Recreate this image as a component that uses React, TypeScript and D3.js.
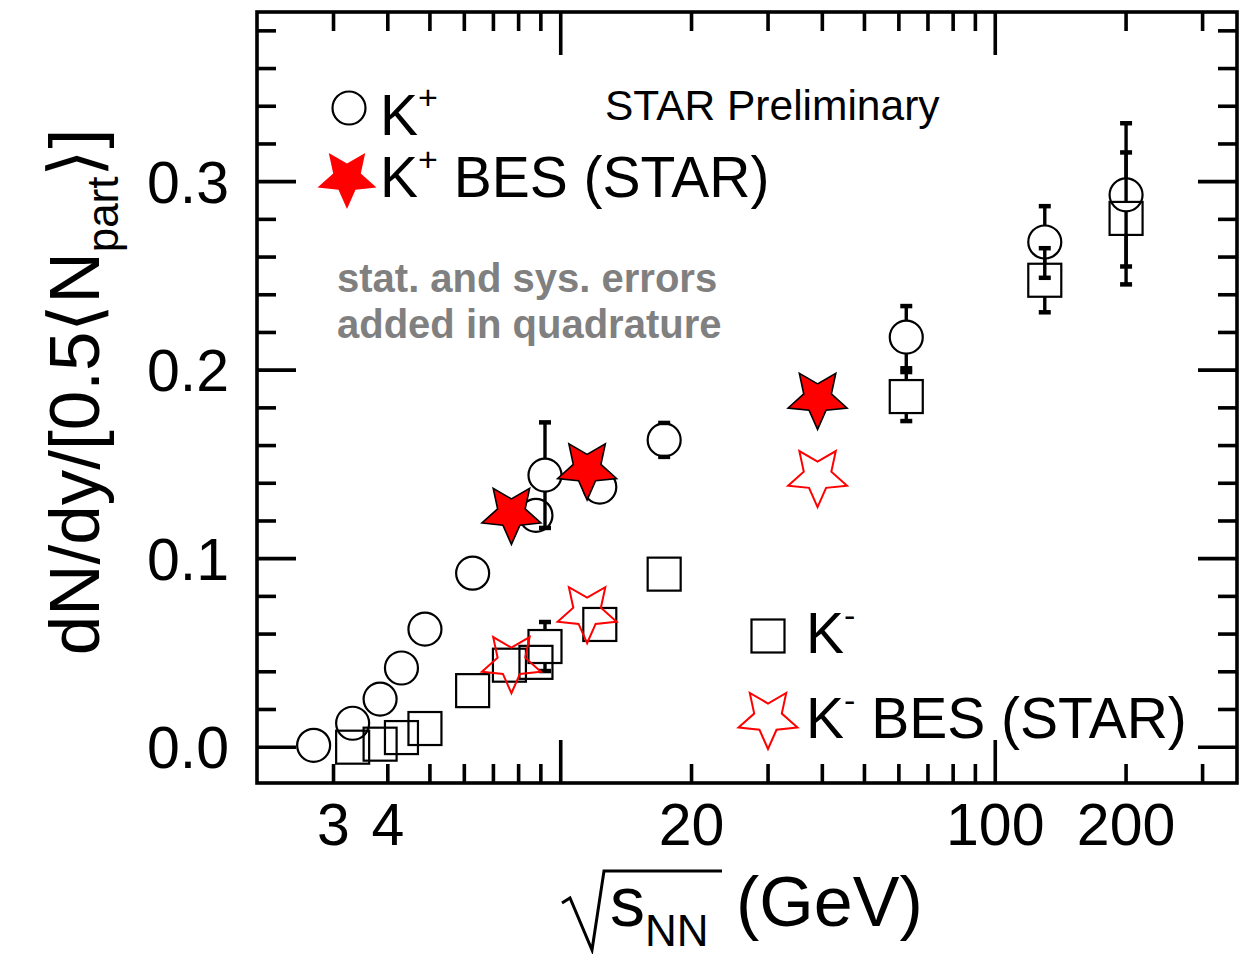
import React from "react";
import * as d3 from "d3";

// Collision energy √s_NN (GeV) and yields dN/dy / (0.5 <Npart>)
const kPlusEnergy = [2.7, 3.32, 3.84, 4.3, 4.87, 6.27, 8.77, 9.2, 12.3, 17.3, 62.4, 130, 200];
const kPlusYield = [0.001, 0.0127, 0.0255, 0.042, 0.0626, 0.0923, 0.123, 0.1443, 0.138, 0.163, 0.2175, 0.268, 0.293];
const kPlusError = [0, 0, 0, 0, 0, 0, 0, 0.028, 0, 0.009, 0.0165, 0.019, 0.038];

const kMinusEnergy = [3.32, 3.84, 4.3, 4.87, 6.27, 7.62, 8.77, 9.2, 12.3, 17.3, 62.4, 130, 200];
const kMinusYield = [0.0, 0.0016, 0.0051, 0.0099, 0.03, 0.0435, 0.045, 0.0534, 0.0651, 0.0918, 0.186, 0.2477, 0.2805];
const kMinusError = [0, 0, 0, 0, 0, 0, 0, 0.013, 0, 0, 0.013, 0.017, 0.035];

// STAR Beam Energy Scan points
const besEnergy = [7.7, 11.5, 39];
const besKPlusYield = [0.124, 0.1476, 0.185];
const besKMinusYield = [0.0451, 0.0716, 0.1438];

const xTickLabels = [3, 4, 20, 100, 200];
const yTickLabels = [0, 0.1, 0.2, 0.3];

const FONT = "'Liberation Sans', Arial, Helvetica, sans-serif";
const RED = "#ff0000";

const MARK = 16.5; // half-size of circle / square markers
const STAR_R = 31;
const STAR_r = 14.5;

// five-pointed star with one point facing down
function starPath(R: number, r: number) {
  const pts: [number, number][] = [];
  for (let i = 0; i < 10; i++) {
    const a = Math.PI / 2 + (i * Math.PI) / 5;
    const rad = i % 2 === 0 ? R : r;
    pts.push([rad * Math.cos(a), rad * Math.sin(a)]);
  }
  return d3.line()(pts) + "Z";
}

export default function App() {
  const x = d3.scaleLog().domain([2, 360]).range([257, 1237]);
  const y = d3.scaleLinear().domain([-0.019, 0.39]).range([783, 12]);
  const [xl, xr] = x.range();
  const [yb, yt] = y.range();

  const xTicks = x.ticks().filter((v) => v > 2 && v < 360);
  const isDecade = (v: number) => Math.abs(Math.log10(v) - Math.round(Math.log10(v))) < 1e-9;
  const yTicks = d3.range(0, 0.3901, 0.02);
  const isMajorY = (v: number) => Math.abs(v * 10 - Math.round(v * 10)) < 1e-6;

  const MINOR = 19;
  const MAJOR = 39;
  const star = starPath(STAR_R, STAR_r);

  const errorBars = (ex: number[], ey: number[], ee: number[], key: string) =>
    ex.map((e, i) => {
      if (!ee[i]) return null;
      const cx = x(e);
      const cy = y(ey[i]);
      const top = y(ey[i] + ee[i]);
      const bot = y(ey[i] - ee[i]);
      return (
        <g key={key + i} stroke="#000">
          <line x1={cx} x2={cx} y1={cy - MARK} y2={top} strokeWidth={3.4} />
          <line x1={cx} x2={cx} y1={cy + MARK} y2={bot} strokeWidth={3.4} />
          <line x1={cx - 6} x2={cx + 6} y1={top} y2={top} strokeWidth={4.5} />
          <line x1={cx - 6} x2={cx + 6} y1={bot} y2={bot} strokeWidth={4.5} />
        </g>
      );
    });

  return (
    <svg
      width={1252}
      height={954}
      viewBox="0 0 1252 954"
      style={{ position: "absolute", left: 0, top: 0, background: "#fff" }}
      fontFamily={FONT}
    >
      <rect x={0} y={0} width={1252} height={954} fill="#fff" />

      {/* bottom/top and left/right axis ticks, all pointing inward */}
      <g stroke="#000" strokeWidth={3.6}>
        {xTicks.map((v) => {
          const len = isDecade(v) ? MAJOR + 4 : MINOR;
          return (
            <g key={"xt" + v}>
              <line x1={x(v)} x2={x(v)} y1={yb} y2={yb - len} />
              <line x1={x(v)} x2={x(v)} y1={yt} y2={yt + len} />
            </g>
          );
        })}
        {yTicks.map((v) => {
          const len = isMajorY(v) ? MAJOR : MINOR;
          return (
            <g key={"yt" + v}>
              <line x1={xl} x2={xl + len} y1={y(v)} y2={y(v)} />
              <line x1={xr} x2={xr - len} y1={y(v)} y2={y(v)} />
            </g>
          );
        })}
      </g>

      {/* frame */}
      <rect x={xl} y={yt} width={xr - xl} height={yb - yt} fill="none" stroke="#000" strokeWidth={3.6} />

      {/* tick labels */}
      <g fontSize={59} fill="#000">
        {xTickLabels.map((v) => (
          <text key={"xl" + v} x={x(v)} y={845} textAnchor="middle">
            {v}
          </text>
        ))}
        {yTickLabels.map((v) => (
          <text key={"yl" + v} x={229} y={y(v) + 21} textAnchor="end">
            {v.toFixed(1)}
          </text>
        ))}
      </g>

      {/* error bars */}
      {errorBars(kPlusEnergy, kPlusYield, kPlusError, "ep")}
      {errorBars(kMinusEnergy, kMinusYield, kMinusError, "em")}

      {/* K+ open circles */}
      <g fill="none" stroke="#000" strokeWidth={2.2}>
        {kPlusEnergy.map((e, i) => (
          <circle key={"kp" + i} cx={x(e)} cy={y(kPlusYield[i])} r={MARK} />
        ))}
      </g>

      {/* K- open squares */}
      <g fill="none" stroke="#000" strokeWidth={2.2}>
        {kMinusEnergy.map((e, i) => (
          <rect
            key={"km" + i}
            x={x(e) - MARK}
            y={y(kMinusYield[i]) - MARK}
            width={2 * MARK}
            height={2 * MARK}
          />
        ))}
      </g>

      {/* BES K- open stars */}
      <g fill="none" stroke={RED} strokeWidth={2}>
        {besEnergy.map((e, i) => (
          <path key={"bm" + i} d={star} transform={`translate(${x(e)},${y(besKMinusYield[i])})`} />
        ))}
      </g>

      {/* BES K+ filled stars */}
      <g fill={RED} stroke="#000" strokeWidth={1.6} strokeLinejoin="miter">
        {besEnergy.map((e, i) => (
          <path key={"bp" + i} d={star} transform={`translate(${x(e)},${y(besKPlusYield[i])})`} />
        ))}
      </g>

      {/* legend, upper left */}
      <circle cx={349} cy={108} r={MARK} fill="none" stroke="#000" strokeWidth={2.2} />
      <text x={380} y={135} fontSize={57}>
        K<tspan fontSize={34} dy={-26}>+</tspan>
      </text>
      <path d={star} transform="translate(347,178)" fill={RED} />
      <text x={380} y={197} fontSize={57}>
        K<tspan fontSize={34} dy={-26}>+</tspan>
        <tspan dy={26}> BES (STAR)</tspan>
      </text>

      <text x={605} y={120} fontSize={42.5}>STAR Preliminary</text>

      <g fontSize={40} fontWeight="bold" fill="#808080">
        <text x={337} y={292}>stat. and sys. errors</text>
        <text x={337} y={338}>added in quadrature</text>
      </g>

      {/* legend, lower right */}
      <rect x={768 - MARK} y={636 - MARK} width={2 * MARK} height={2 * MARK} fill="none" stroke="#000" strokeWidth={2.2} />
      <text x={806} y={653} fontSize={57}>
        K<tspan fontSize={34} dy={-26}>-</tspan>
      </text>
      <path d={star} transform="translate(768,718)" fill="none" stroke={RED} strokeWidth={2} />
      <text x={806} y={738} fontSize={57}>
        K<tspan fontSize={34} dy={-26}>-</tspan>
        <tspan dy={26}> BES (STAR)</tspan>
      </text>

      {/* x-axis title */}
      <path d="M562,903 L570,898 L592,950 L604,871 L722,871" fill="none" stroke="#000" strokeWidth={3} strokeLinejoin="miter" />
      <text x={610} y={926} fontSize={70}>
        s<tspan fontSize={44} dy={20}>NN</tspan>
        <tspan x={736} dy={-20}>(GeV)</tspan>
      </text>

      {/* y-axis title */}
      <text transform="translate(99,392) rotate(-90)" textAnchor="middle" fontSize={71}>
        dN/dy/[0.5<tspan fontFamily="'DejaVu Sans'" fontWeight={200}>⟨</tspan>N
        <tspan fontSize={44} dy={19}>part</tspan>
        <tspan dy={-19} fontFamily="'DejaVu Sans'" fontWeight={200}>⟩</tspan>]
      </text>
    </svg>
  );
}
